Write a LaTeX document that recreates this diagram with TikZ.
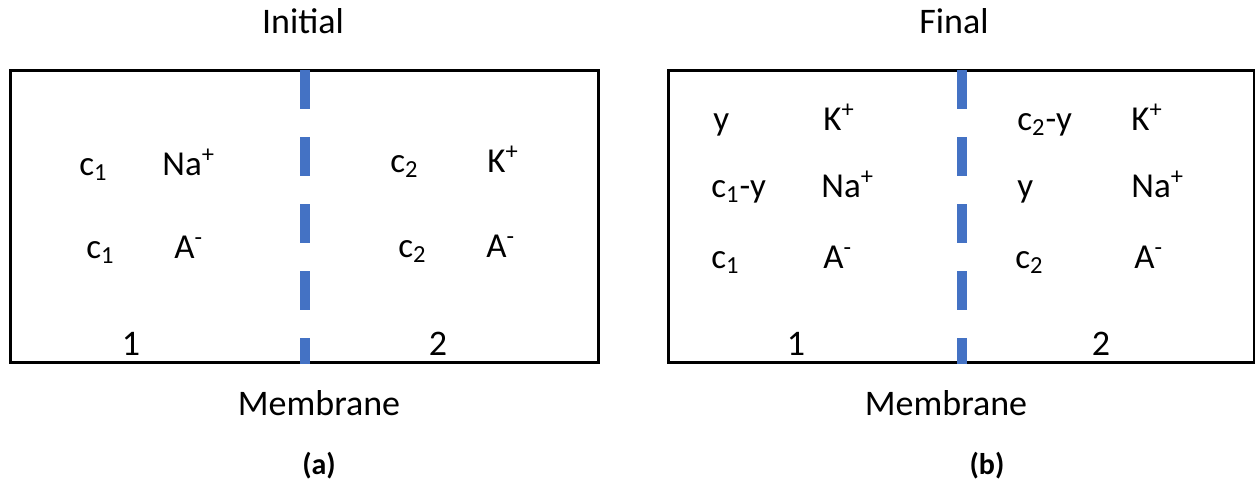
\documentclass[tikz,border=0pt]{standalone}
\usepackage{fontspec}
\setmainfont{Carlito}
\definecolor{memblue}{HTML}{4472C4}
\tikzset{
ion/.style={anchor=base west, inner sep=0, font=\fontsize{17.5}{21}\selectfont},
heading/.style={anchor=base, inner sep=0, font=\fontsize{18}{22}\selectfont},
tag/.style={anchor=base, inner sep=0, font=\fontsize{15}{18}\selectfont\bfseries},
chamber/.style={draw, line width=1.5pt},
membrane/.style={draw=memblue, line width=5pt, dash pattern=on 19.5pt off 14pt}}

\begin{document}
\begin{tikzpicture}[x=0.5pt, y=-0.5pt]
\useasboundingbox (0,0) rectangle (1255,493);
\foreach \xl/\xm/\xr in {10/305/598, 668/962/1254}{
      \draw [chamber] (\xl,70) rectangle (\xr,362);
      \draw [membrane] (\xm,70) -- (\xm,364);
}
% (a) initial state
\node [heading] (title-a) at (303,33) {Initial};
\node [ion] (c1-na) at (79,175) {c\textsubscript{1}};
\node [ion] (na-a) at (162,175) {Na\textsuperscript{+}};
\node [ion] (c1-an) at (86,258) {c\textsubscript{1}};
\node [ion] (an-a1) at (174,258) {A\textsuperscript{-}};
\node [ion] (c2-k) at (390,172) {c\textsubscript{2}};
\node [ion] (k-a) at (487,172) {K\textsuperscript{+}};
\node [ion] (c2-an) at (398,257) {c\textsubscript{2}};
\node [ion] (an-a2) at (486,257) {A\textsuperscript{-}};
\node [heading] (one-a) at (131,355) {1};
\node [heading] (two-a) at (438,355) {2};
\node [heading] (mem-a) at (319,415) {Membrane};
\node [tag] (tag-a) at (319,474) {(a)};
% (b) final state
\node [heading] (title-b) at (954,33) {Final};
\node [ion] (y-k1) at (713,130) {y};
\node [ion] (k-b1) at (823,130) {K\textsuperscript{+}};
\node [ion] (c1y-na) at (711,197) {c\textsubscript{1}-y};
\node [ion] (na-b1) at (821,197) {Na\textsuperscript{+}};
\node [ion] (c1-b) at (711,268) {c\textsubscript{1}};
\node [ion] (an-b1) at (823,268) {A\textsuperscript{-}};
\node [ion] (c2y-k) at (1017,130) {c\textsubscript{2}-y};
\node [ion] (k-b2) at (1131,130) {K\textsuperscript{+}};
\node [ion] (y-na2) at (1017,197) {y};
\node [ion] (na-b2) at (1131,197) {Na\textsuperscript{+}};
\node [ion] (c2-b) at (1015,268) {c\textsubscript{2}};
\node [ion] (an-b2) at (1134,268) {A\textsuperscript{-}};
\node [heading] (one-b) at (796,355) {1};
\node [heading] (two-b) at (1101,355) {2};
\node [heading] (mem-b) at (946,415) {Membrane};
\node [tag] (tag-b) at (987,474) {(b)};
\end{tikzpicture}
\end{document}
